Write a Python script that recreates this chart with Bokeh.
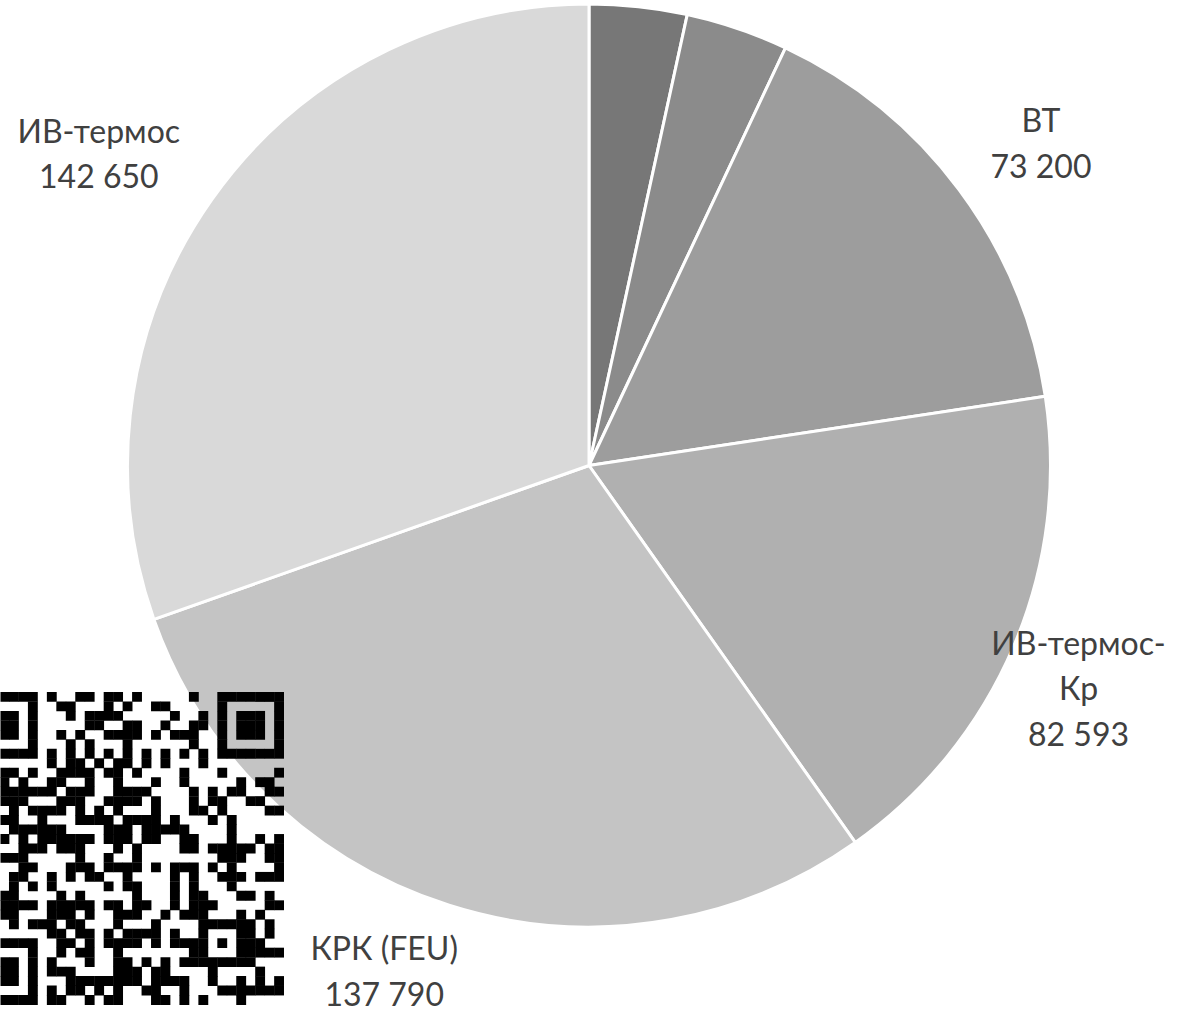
import math
from bokeh.plotting import figure
from bokeh.models import ColumnDataSource, Range1d
from bokeh.core.properties import value
from bokeh.embed import file_html
from bokeh.resources import INLINE

# ---------------- data ----------------
categories = ["", "", "ВТ", "ИВ-термос-Кр", "КРК (FEU)", "ИВ-термос"]
label_lines = [None, None, ["ВТ"], ["ИВ-термос-", "Кр"], ["КРК (FEU)"], ["ИВ-термос"]]
values = [16020, 16810, 73200, 82593, 137790, 142650]
colors = ["#777777", "#8b8b8b", "#9d9d9d", "#b0b0b0", "#c4c4c4", "#d9d9d9"]

# QR watermark (black module columns per row, 33x33 grid)
qr_rows = [
    [3,4,5,6,8,11,12,14,15,17,23,26,27,28,29,30,31,32],
    [6,9,10,14,16,19,20,26,32],
    [3,4,6,10,12,13,14,15,21,24,26,28,29,30,32],
    [3,4,6,12,13,16,17,20,23,24,26,28,29,30,32],
    [3,4,6,9,11,14,15,16,17,19,21,22,23,26,28,29,30,32],
    [6,10,12,16,23,26,32],
    [3,4,5,6,8,10,12,14,16,18,20,22,24,26,27,28,29,30,31,32],
    [8,10,11,13,15,16,18,20,24],
    [3,4,6,9,10,11,12,14,15,17,22,26,32],
    [3,5,8,9,12,15,19,22,28,30,31],
    [3,4,5,6,7,8,10,11,12,15,16,17,18,23,25,27,28,31,32],
    [3,4,5,9,10,11,14,15,16,17,19,23,25,26,29,30],
    [4,6,7,8,9,11,13,15,19,23,24,26,31,32],
    [3,4,7,11,12,13,14,16,17,18,19,21,25,27],
    [4,5,6,7,8,9,14,15,16,18,19,20,21,22,27],
    [3,5,7,8,9,10,11,12,14,15,16,18,19,22,23,27,30,32],
    [5,6,7,9,10,11,15,17,22,23,25,26,27,28,29,31,32],
    [3,4,5,11,14,17,26,27,28,31,32],
    [5,6,10,11,12,14,15,16,17,19,21,22,23,25,27,32],
    [4,5,8,10,12,13,16,21,23,26,27,28,30,31,32],
    [4,6,8,14,16,17,21,23,27],
    [3,4,9,11,17,21,23,24,28,29,31],
    [3,4,5,6,8,9,10,11,12,14,15,17,18,21,23,24,25,31,32],
    [3,4,8,9,10,12,15,16,17,20,22,23,24,28,30],
    [4,6,7,8,10,11,15,19,24,25,26,27,28,29,31],
    [8,9,11,12,14,16,17,18,19,21,24,28,29,31],
    [3,4,5,6,9,10,12,14,15,16,17,19,21,22,23,24,26,28,29,30],
    [6,9,11,12,15,23,24,28,29,30,31,32],
    [3,4,6,8,12,15,16,18,20,22,23,24,25,26,27,28,29],
    [3,4,6,8,9,10,15,16,17,19,20,25,30],
    [3,4,6,10,11,12,13,14,15,16,17,19,20,21,22,25,28,30,32],
    [6,8,10,11,13,15,18,19,22,26,27,28,29,30,31,32],
    [3,4,5,6,8,9,12,14,15,19,20,22,24,28],
]

# ---------------- layout ----------------
W, H = 1179, 1011
CX, CY = 588.5, H - 465.0
R = 461.5
label_nudge = [None, None, (8, -7), (-20, -4), (-37, 24), (-38, -6)]  # px (x right, y up)
LINE_H = 45.5
FONT_PX = 32
BASE_SHIFT = 1

p = figure(width=W, height=H, x_range=Range1d(0, W), y_range=Range1d(0, H),
           output_backend="svg", toolbar_location=None,
           x_axis_type=None, y_axis_type=None, min_border=0)
p.grid.visible = False
p.outline_line_color = None
p.background_fill_color = "white"
p.border_fill_color = "white"

total = float(sum(values))
starts, ends, mids = [], [], []
acc = 0.0
for v in values:
    a0 = acc / total * 2 * math.pi
    acc += v
    a1 = acc / total * 2 * math.pi
    starts.append(math.pi / 2 - a0)
    ends.append(math.pi / 2 - a1)
    mids.append((a0 + a1) / 2)

src = ColumnDataSource(dict(x=[CX] * len(values), y=[CY] * len(values),
                            start=starts, end=ends, color=colors,
                            cat=categories, val=values))
p.wedge(x="x", y="y", radius=R, start_angle="start", end_angle="end",
        direction="clock", fill_color="color", line_color="white",
        line_width=3, source=src)

# labels
tx, ty, tt = [], [], []
for i, lines in enumerate(label_lines):
    if lines is None:
        continue
    full = lines + ["{:,}".format(values[i]).replace(",", " ")]
    th = mids[i]
    bx = CX + 1.2 * R * math.sin(th) + label_nudge[i][0]
    by = CY + 1.2 * R * math.cos(th) + label_nudge[i][1]
    n = len(full)
    for k, s in enumerate(full):
        cap_center = by + ((n - 1) / 2 - k) * LINE_H
        tx.append(bx)
        ty.append(cap_center - BASE_SHIFT)
        tt.append(s)
p.text(x=tx, y=ty, text=tt, text_font=value("Lato"),
       text_font_size=value(f"{FONT_PX}px"), text_color="#404040",
       text_align="center", text_baseline="alphabetic")

# QR watermark
M = 9.47
QX0, QY0 = -29.2, 691.7
l, r, t, b = [], [], [], []
for ri, cols in enumerate(qr_rows):
    for c in cols:
        x0 = QX0 + c * M
        y0 = QY0 + ri * M
        l.append(x0 - 0.2)
        r.append(x0 + M + 0.2)
        t.append(H - y0 + 0.2)
        b.append(H - (y0 + M) - 0.2)
p.quad(left=l, right=r, top=t, bottom=b, fill_color="black", line_color=None)

open("out.html", "w").write(file_html(p, INLINE))
